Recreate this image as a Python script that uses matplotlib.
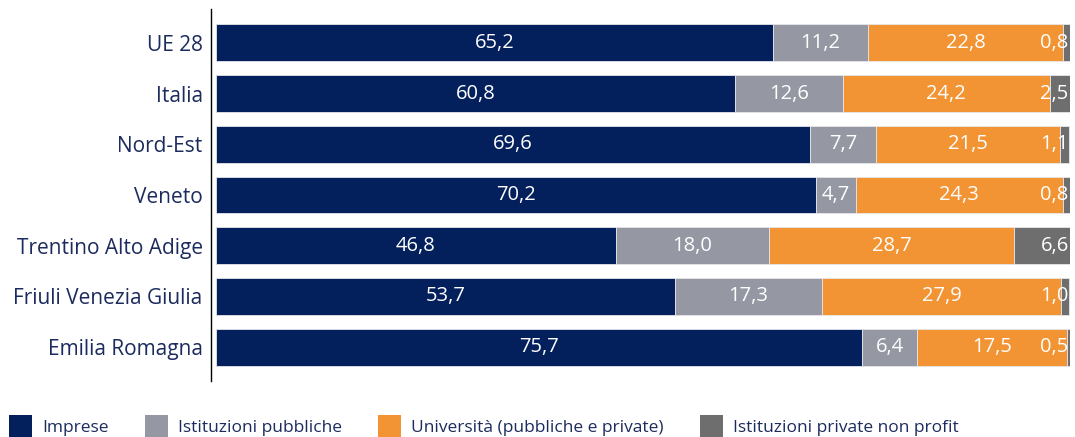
import matplotlib.pyplot as plt
from matplotlib.patches import Patch

plt.rcParams['font.family'] = ['Open Sans', 'DejaVu Sans']

regions = ['UE 28', 'Italia', 'Nord-Est', 'Veneto', 'Trentino Alto Adige',
           'Friuli Venezia Giulia', 'Emilia Romagna']
imprese = [65.2, 60.8, 69.6, 70.2, 46.8, 53.7, 75.7]
pubbliche = [11.2, 12.6, 7.7, 4.7, 18.0, 17.3, 6.4]
universita = [22.8, 24.2, 21.5, 24.3, 28.7, 27.9, 17.5]
nonprofit = [0.8, 2.5, 1.1, 0.8, 6.6, 1.0, 0.5]

series = [imprese, pubbliche, universita, nonprofit]
names = ['Imprese', 'Istituzioni pubbliche', 'Università (pubbliche e private)',
         'Istituzioni private non profit']
colors = ['#03205c', '#9598a3', '#f39434', '#6e6e6e']
navy = '#1c2b5e'

fig = plt.figure(figsize=(10.75, 4.37), dpi=100)
ax = fig.add_axes([211 / 1075, 1 - 381 / 437, (1070 - 211) / 1075, 372 / 437])

y = list(range(len(regions)))
left = [0.0] * len(regions)
for k, (vals, c) in enumerate(zip(series, colors)):
    ax.barh(y, vals, left=left, color=c, height=0.73, edgecolor='#e6e6ea', linewidth=0.6)
    for i, v in enumerate(vals):
        txt = f'{v:.1f}'.replace('.', ',')
        if k == 3:
            ax.text(99.85, i, txt, ha='right', va='center', color='white', fontsize=14.5)
        else:
            ax.text(left[i] + v / 2, i, txt, ha='center', va='center', color='white', fontsize=14.5)
    left = [l + v for l, v in zip(left, vals)]

ax.set_xlim(-0.59, 100)
ax.set_ylim(len(regions) - 1 + 0.67, -0.67)
ax.set_yticks(y)
ax.set_yticklabels(regions, fontsize=15, color=navy)
ax.tick_params(axis='y', length=0, pad=6)
ax.set_xticks([])
for s in ['top', 'right', 'bottom']:
    ax.spines[s].set_visible(False)
ax.spines['left'].set_linewidth(1.0)

handles = [Patch(facecolor=c, edgecolor='none') for c in colors]
leg = fig.legend(handles, names, loc='lower left', bbox_to_anchor=(9 / 1075, 0.0), ncol=4,
                 frameon=False, fontsize=12.5, handlelength=1.3, handleheight=1.55,
                 columnspacing=2.1, handletextpad=0.6, borderpad=0, borderaxespad=0)
for t in leg.get_texts():
    t.set_color(navy)

fig.savefig('out.png', dpi=100)
